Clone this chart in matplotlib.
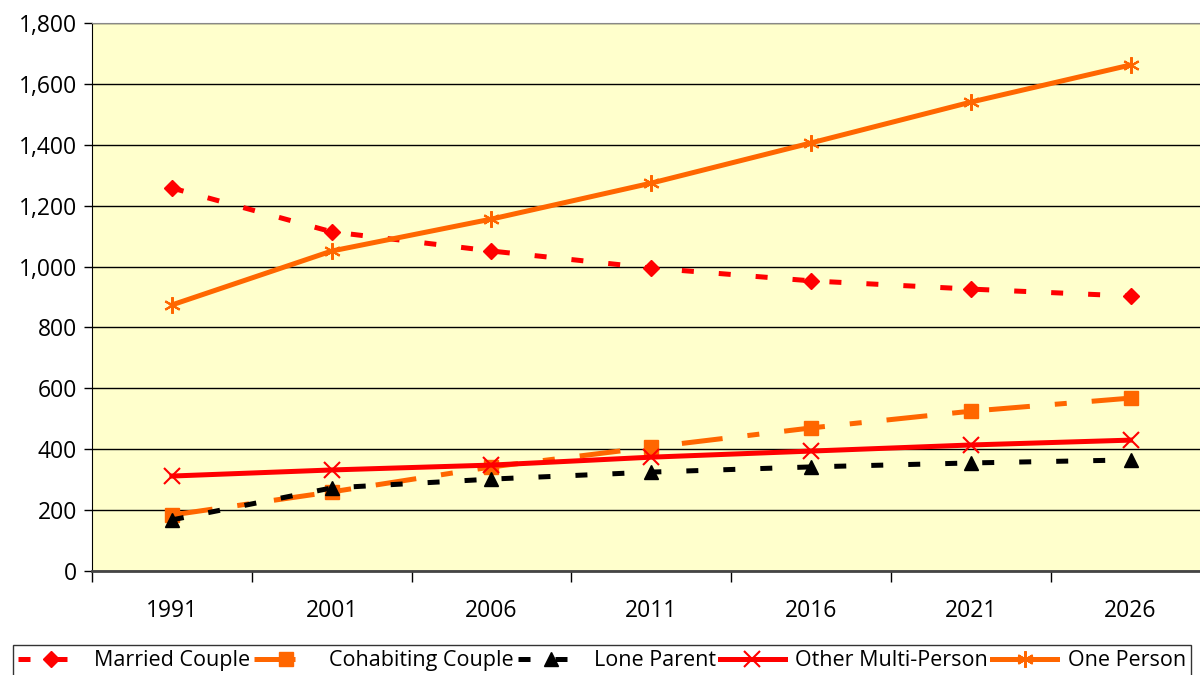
import matplotlib
matplotlib.use("Agg")
import matplotlib.pyplot as plt
from matplotlib.ticker import FuncFormatter, MultipleLocator

plt.rcParams['font.family'] = ['Open Sans', 'DejaVu Sans']

years = ["1991", "2001", "2006", "2011", "2016", "2021", "2026"]
married = [1258, 1114, 1051, 995, 953, 926, 903]
cohabiting = [184, 260, 342, 407, 470, 525, 568]
lone_parent = [168, 273, 302, 325, 342, 355, 365]
other_multi = [312, 332, 348, 374, 394, 414, 430]
one_person = [874, 1051, 1156, 1274, 1406, 1540, 1662]

fig = plt.figure(figsize=(12, 6.75), dpi=100)
ax = fig.add_axes([0.0767, 0.154, 0.932, 0.812])
ax.set_facecolor('#FFFFCC')

x = list(range(len(years)))
RED = '#FF0000'
ORANGE = '#FF6600'
LW = 3.6

ax.plot(x, married, color=RED, lw=LW, linestyle=(0, (2.4, 5)), marker='D', ms=8,
        label='Married Couple', zorder=3)
ax.plot(x, cohabiting, color=ORANGE, lw=LW, linestyle=(0, (8.2, 5, 2.4, 5)), marker='s', ms=10,
        label='Cohabiting Couple', zorder=3)
ax.plot(x, lone_parent, color='black', lw=LW, linestyle=(0, (2.4, 5)), marker='^', ms=10,
        label='Lone Parent', zorder=3)
ax.plot(x, other_multi, color=RED, lw=LW, linestyle='-', marker='x', ms=11, mew=1.5,
        label='Other Multi-Person', zorder=3)
ax.plot(x, one_person, color=ORANGE, lw=LW, linestyle='-', marker=(6, 2, 0), ms=12, mew=1.5,
        label='One Person', zorder=3)

ax.set_xlim(-0.5, len(years) - 0.5)
ax.set_ylim(0, 1800)
ax.yaxis.set_major_locator(MultipleLocator(200))
ax.yaxis.set_major_formatter(FuncFormatter(lambda v, p: f"{int(v):,}"))
ax.set_xticks(x)
ax.set_xticklabels(years)
ax.set_xticks([i + 0.5 for i in range(-1, len(years))], minor=True)
ax.tick_params(axis='x', which='major', length=0, pad=20, labelsize=16.5)
ax.tick_params(axis='x', which='minor', length=8, width=1, color='black')
ax.tick_params(axis='y', length=6, width=1, labelsize=16.5, pad=5)
ax.grid(axis='y', color='black', lw=1)
ax.set_axisbelow(True)
ax.spines['right'].set_visible(False)
ax.spines['top'].set_color('#888888')
ax.spines['left'].set_color('black')
ax.spines['bottom'].set_color('#444444')
ax.spines['bottom'].set_linewidth(2)

leg = fig.legend(loc='upper left', bbox_to_anchor=(0.0108, 0.0444), bbox_transform=fig.transFigure,
                 ncol=5, frameon=True, fancybox=False, edgecolor='black', fontsize=15.5,
                 handlelength=3.0, columnspacing=0.2, handletextpad=0.5, borderpad=0.25,
                 borderaxespad=0)
leg.get_frame().set_linewidth(1)

fig.savefig('out.png', dpi=100, facecolor='white')
